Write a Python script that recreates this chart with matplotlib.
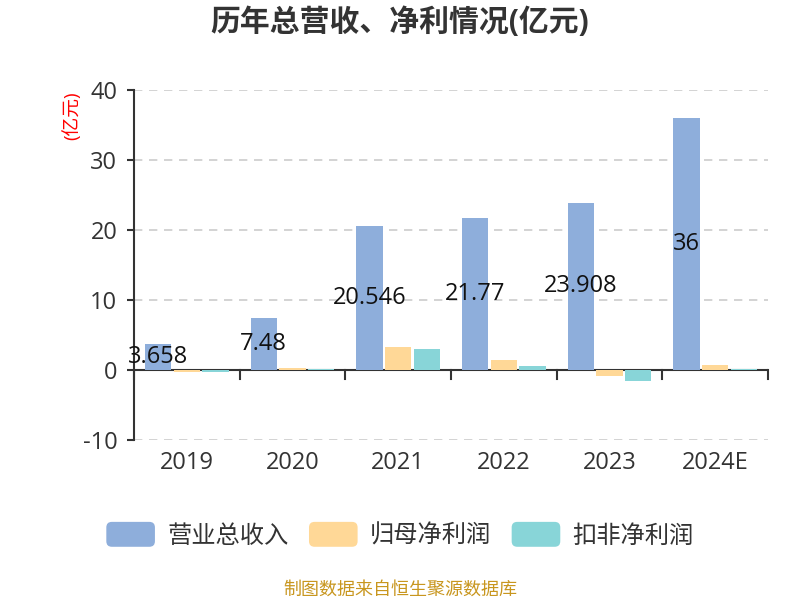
import numpy as np
import matplotlib.pyplot as plt
from matplotlib.patches import FancyBboxPatch
from matplotlib.legend_handler import HandlerPatch

plt.rcParams['font.family'] = ['Open Sans', 'Noto Sans CJK SC', 'DejaVu Sans']
plt.rcParams['axes.unicode_minus'] = False

# data (亿元)
years = ['2019', '2020', '2021', '2022', '2023', '2024E']
revenue = [3.658, 7.48, 20.546, 21.77, 23.908, 36]
net_profit = [-0.35, 0.35, 3.35, 1.43, -0.85, 0.71]
deducted_profit = [-0.25, 0.2, 3.0, 0.62, -1.57, 0.15]
revenue_labels = ['3.658', '7.48', '20.546', '21.77', '23.908', '36']

series_names = ['营业总收入', '归母净利润', '扣非净利润']
colors = ['#8eaedb', '#ffd897', '#88d5d8']


class RoundHandler(HandlerPatch):
    def create_artists(self, legend, orig_handle, xdescent, ydescent,
                       width, height, fontsize, trans):
        p = FancyBboxPatch((-xdescent, -ydescent), width, height,
                           boxstyle='round,pad=0,rounding_size=4',
                           facecolor=orig_handle.get_facecolor(),
                           edgecolor='none', transform=trans)
        return [p]


fig = plt.figure(figsize=(8, 6), dpi=100)
ax = fig.add_axes([0.1675, 0.2667, 0.7925, 0.5833])

x = np.arange(len(years))
w = 0.25
off = 0.272
handles = []
for i, vals in enumerate([revenue, net_profit, deducted_profit]):
    bars = ax.bar(x + (i - 1) * off, vals, width=w, color=colors[i],
                  edgecolor='none', label=series_names[i], zorder=3)
    handles.append(bars.patches[0])

for xi, v, lab in zip(x, revenue, revenue_labels):
    ax.text(xi - off, v / 2, lab, ha='center', va='center', fontsize=17,
            color='#111111', zorder=5)

ax.set_xlim(-0.5, len(years) - 0.5)
ax.set_ylim(-10, 40)
ax.set_yticks([-10, 0, 10, 20, 30, 40])
ax.set_xticks(x)
ax.set_xticklabels(years)
ax.tick_params(axis='y', length=5, width=1.5, color='#333333', labelsize=17,
               labelcolor='#333333', pad=7)
ax.tick_params(axis='x', length=0, labelsize=17, labelcolor='#333333', pad=8)

# category boundary ticks on the zero line
for b in np.arange(-0.5, len(years), 1.0):
    ax.plot([b, b], [0, -1.3], color='#333333', lw=1.5, zorder=2, clip_on=False)
ax.axhline(0, color='#333333', lw=1.5, zorder=2)

for yv in [-10, 10, 20, 30, 40]:
    ax.axhline(yv, color='#cccccc', lw=1.2, ls=(0, (5, 4)), zorder=1)

for s in ['top', 'right', 'bottom']:
    ax.spines[s].set_visible(False)
ax.spines['left'].set_color('#333333')
ax.spines['left'].set_linewidth(1.5)

fig.text(0.09, 0.808, '(亿元)', color='red', fontsize=13.5, rotation=90,
         ha='center', va='center')

fig.text(0.5, 0.962, '历年总营收、净利情况(亿元)', ha='center', va='center',
         fontsize=21.5, fontweight='bold', color='#333333')

fig.legend(handles, series_names, loc='center', bbox_to_anchor=(0.5, 0.108),
           ncol=3, frameon=False, fontsize=17.5, handlelength=2.0,
           handleheight=1.2, handletextpad=0.5, columnspacing=0.85,
           labelcolor='#333333', handler_map={h: RoundHandler() for h in handles})

fig.text(0.5, 0.018, '制图数据来自恒生聚源数据库', ha='center', va='center',
         fontsize=13, color='#c8961e')

fig.savefig('out.png', dpi=100)
